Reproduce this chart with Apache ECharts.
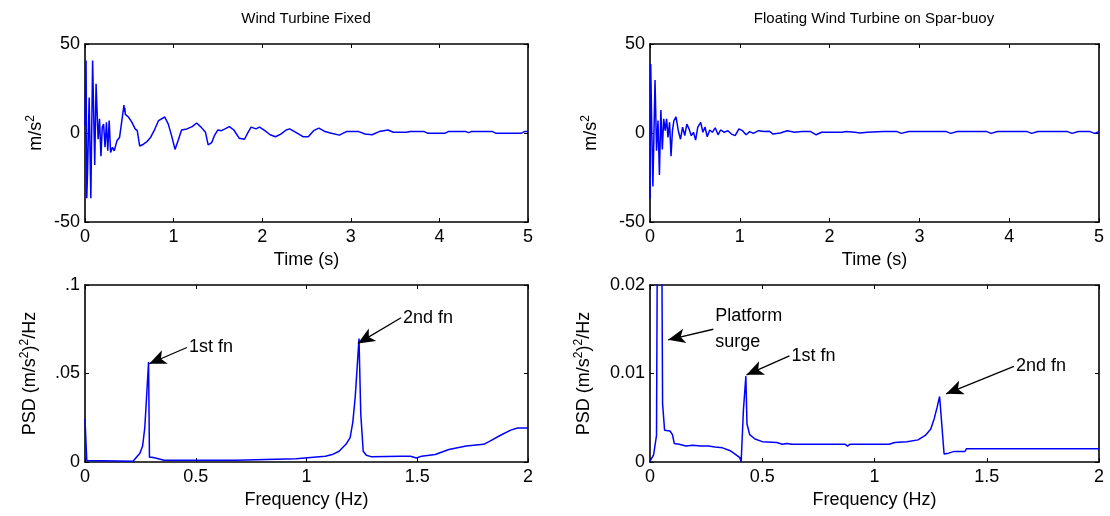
<!DOCTYPE html>
<html>
<head>
<meta charset="utf-8">
<script src="https://cdn.jsdelivr.net/npm/echarts@6/dist/echarts.min.js"></script>
<style>
  html, body { margin: 0; background: #fff; }
  #chart { width: 1110px; height: 516px; }
</style>
</head>
<body>
<div id="chart"></div>
<script>
// time histories, [t (s), acceleration (m/s^2)]
var fixedAccel = [
  [0, 4], [0.012, 40.7], [0.02, -36.7], [0.03, -20], [0.047, 20], [0.066, -36.7], [0.086, 40.7],
  [0.11, -18], [0.125, 27.6], [0.148, -3.5], [0.164, 8], [0.18, -13], [0.195, 3.3], [0.21, 5],
  [0.226, -8], [0.242, 6], [0.257, -10], [0.273, 7], [0.289, -11], [0.31, -8], [0.33, -10],
  [0.36, -4.4], [0.39, -2.5], [0.44, 15.7], [0.445, 12], [0.45, 14], [0.455, 10.5], [0.49, 9],
  [0.53, 6], [0.566, 2.3], [0.59, 1.3], [0.617, -7.3], [0.66, -6.3], [0.70, -4.8], [0.74, -2.5],
  [0.78, 1.3], [0.83, 7], [0.9, 9], [0.94, 5], [0.977, -1.5], [1.016, -9.2], [1.05, -4.4],
  [1.09, 1.7], [1.15, 2.3], [1.21, 3.6], [1.26, 5.6], [1.31, 3.3], [1.36, 0.4], [1.39, -6.7],
  [1.43, -5.4], [1.46, -1.5], [1.5, 1.7], [1.54, 1.3], [1.58, 2.3], [1.63, 3.6], [1.68, 1.7],
  [1.74, -2.9], [1.80, -3.5], [1.84, 0.4], [1.875, 3.3], [1.93, 2.3], [1.97, 3.3], [2.03, 1.3],
  [2.09, -1], [2.15, -2.1], [2.21, -0.6], [2.27, 1.7], [2.31, 2.3], [2.38, 0.4], [2.46, -2.1],
  [2.52, -2.1], [2.58, 1.3], [2.64, 2.7], [2.70, 1], [2.77, 0], [2.87, -1.2], [2.95, 0.8],
  [3.09, 0.8], [3.16, -0.6], [3.24, -1], [3.32, 0.8], [3.42, 1.7], [3.48, 0.4], [3.63, 0.4],
  [3.67, 0.8], [3.83, 0.8], [3.87, -0.2], [4.06, -0.2], [4.1, 0.8], [4.3, 0.8], [4.33, 0.2],
  [4.36, 0.8], [4.6, 0.8], [4.64, -0.2], [4.92, -0.2], [4.96, 0.8], [5, 0.8]
];
var floatAccel = [
  [0, -37], [0.004, -37], [0.008, 38.8], [0.02, 1.3], [0.032, -30], [0.056, 29.8], [0.073, -10],
  [0.089, 7], [0.105, -23.6], [0.121, 12.9], [0.137, -9.2], [0.153, 8], [0.169, 1.3], [0.185, 8],
  [0.2, -2.5], [0.218, 6], [0.234, -13], [0.25, 1.3], [0.266, 7], [0.29, 9], [0.315, 1.3],
  [0.34, -3.5], [0.363, 3.3], [0.387, -1.5], [0.41, 5], [0.435, 2.3], [0.46, -1.5], [0.484, 0.4],
  [0.508, -4], [0.532, 3.3], [0.565, 6], [0.589, 0.4], [0.613, 3.3], [0.637, -2.1], [0.665, 1.7],
  [0.694, 0.4], [0.726, 2.9], [0.758, -1], [0.786, 1.7], [0.827, 0.4], [0.867, 1.3], [0.907, -0.6],
  [0.948, -1.5], [0.99, 2.3], [1.03, 1.3], [1.07, -1], [1.11, 0.8], [1.15, -0.2], [1.21, 1.3],
  [1.27, 0.8], [1.33, 1], [1.37, -0.6], [1.45, 0], [1.53, 1.3], [1.61, 0.4], [1.69, 0.8],
  [1.79, 0.8], [1.85, -1], [1.91, 0.4], [2.14, 0.4], [2.18, 0.8], [2.28, 0.4], [2.34, 0],
  [2.42, 0.4], [2.6, 0.8], [2.75, 0.8], [2.8, -0.2], [2.88, 0.8], [3.3, 0.8], [3.35, -0.2],
  [3.42, 0.8], [3.75, 0.8], [3.8, -0.2], [3.87, 0.8], [4.2, 0.8], [4.25, -0.2], [4.32, 0.8],
  [4.65, 0.8], [4.7, -0.2], [4.77, 0.8], [4.9, 0.8], [4.95, -0.2], [5, 0.8]
];

// spectra, [f (Hz), PSD]
var fixedPsd = [
  [0, 0.0243], [0.008, 0.0008], [0.012, 0.0004], [0.217, 0.0004], [0.236, 0.0033], [0.248, 0.005],
  [0.26, 0.009], [0.27, 0.0195], [0.279, 0.039], [0.287, 0.0565], [0.291, 0.0027], [0.302, 0.0027],
  [0.318, 0.0023], [0.357, 0.001], [0.68, 0.001], [0.688, 0.0017], [0.953, 0.0019], [0.96, 0.0029],
  [1.085, 0.0033], [1.116, 0.0042], [1.147, 0.0061], [1.178, 0.01], [1.197, 0.0138], [1.209, 0.0224],
  [1.22, 0.0368], [1.23, 0.056], [1.237, 0.0697], [1.245, 0.0272], [1.256, 0.0061], [1.27, 0.0038],
  [1.295, 0.0029], [1.426, 0.0033], [1.47, 0.0033], [1.496, 0.0023], [1.52, 0.0033], [1.581, 0.0042],
  [1.643, 0.0071], [1.721, 0.009], [1.8, 0.01], [1.83, 0.0119], [1.876, 0.0151], [1.922, 0.018],
  [1.953, 0.0192], [2, 0.0192]
];
var floatPsd = [
  [0, 0.0001], [0.016, 0.0008], [0.029, 0.003], [0.042, 0.08], [0.056, 0.0066], [0.065, 0.0036],
  [0.089, 0.0035], [0.1, 0.0031], [0.108, 0.0021], [0.13, 0.002], [0.16, 0.0018], [0.19, 0.0019],
  [0.226, 0.0018], [0.26, 0.0018], [0.29, 0.0017], [0.323, 0.0016], [0.355, 0.0013], [0.379, 0.0009],
  [0.4, 0.0005], [0.406, 0], [0.416, 0.0058], [0.427, 0.0097], [0.432, 0.0043], [0.444, 0.0031],
  [0.468, 0.0026], [0.5, 0.0023], [0.565, 0.0022], [0.589, 0.002], [0.61, 0.0021], [0.63, 0.002],
  [0.87, 0.002], [0.88, 0.0018], [0.89, 0.002], [1.065, 0.002], [1.09, 0.0022], [1.145, 0.0023],
  [1.194, 0.0025], [1.226, 0.003], [1.25, 0.0037], [1.266, 0.0049], [1.279, 0.0062], [1.29, 0.0074],
  [1.31, 0.0009], [1.33, 0.001], [1.355, 0.0012], [1.403, 0.0012], [1.41, 0.0015], [2, 0.0015]
];

// arrow annotations: text sits at `from`, arrow head at `to`
var fixedNotes = [
  { text: '1st fn', from: [0.46, 0.0647], to: [0.29, 0.0555] },
  { text: '2nd fn', from: [1.427, 0.0815], to: [1.232, 0.067] }
];
var floatNotes = [
  { text: 'Platform\nsurge', from: [0.282, 0.015], to: [0.081, 0.0138] },
  { text: '1st fn', from: [0.621, 0.012], to: [0.43, 0.00985] },
  { text: '2nd fn', from: [1.621, 0.0108], to: [1.319, 0.0077] }
];

var titles = ['Wind Turbine Fixed', 'Floating Wind Turbine on Spar-buoy'];

var FONT = 'Liberation Sans, Arial, sans-serif';
var FS = 18;
var grids = [
  { left: 85, top: 44, width: 443, height: 178 },
  { left: 650, top: 44, width: 449, height: 178 },
  { left: 85, top: 285, width: 443, height: 177 },
  { left: 650, top: 285, width: 449, height: 177 }
];

var xDefs = [
  { min: 0, max: 5, interval: 1, name: 'Time (s)' },
  { min: 0, max: 5, interval: 1, name: 'Time (s)' },
  { min: 0, max: 2, interval: 0.5, name: 'Frequency (Hz)' },
  { min: 0, max: 2, interval: 0.5, name: 'Frequency (Hz)' }
];
var yDefs = [
  { min: -50, max: 50, interval: 50, name: 'm/s{sup|2}', gap: 38, fmt: function (v) { return String(v); } },
  { min: -50, max: 50, interval: 50, name: 'm/s{sup|2}', gap: 48, fmt: function (v) { return String(v); } },
  { min: 0, max: 0.1, interval: 0.05, name: 'PSD (m/s{sup|2}){sup|2}/Hz', gap: 44, fmt: function (v) {
      var k = Math.round(v * 100);
      return k === 0 ? '0' : (k === 10 ? '.1' : '.05');
    } },
  { min: 0, max: 0.02, interval: 0.01, name: 'PSD (m/s{sup|2}){sup|2}/Hz', gap: 55, fmt: function (v) {
      var k = Math.round(v * 100);
      return k === 0 ? '0' : '0.0' + k;
    } }
];

var lineAxis = { show: true, onZero: false, lineStyle: { color: '#000', width: 1.6 } };
var tickIn = { show: true, inside: true, length: 4, lineStyle: { color: '#000', width: 1 } };
var labelStyle = { color: '#000', fontSize: FS, fontFamily: FONT };
var nameStyle = {
  color: '#000', fontSize: FS, fontFamily: FONT, lineHeight: 22,
  rich: { sup: { fontSize: 12, fontFamily: FONT, color: '#000', verticalAlign: 'top', lineHeight: 12 } }
};

var xAxes = [], yAxes = [];
grids.forEach(function (g, i) {
  var xd = xDefs[i], yd = yDefs[i];
  xAxes.push({
    type: 'value', gridIndex: i, position: 'bottom', min: xd.min, max: xd.max, interval: xd.interval,
    name: xd.name, nameLocation: 'middle', nameGap: 29,
    nameTextStyle: { color: '#000', fontSize: FS, fontFamily: FONT },
    axisLine: lineAxis, axisTick: tickIn, splitLine: { show: false },
    axisLabel: Object.assign({ margin: 6 }, labelStyle)
  });
  xAxes.push({
    type: 'value', gridIndex: i, position: 'top', min: xd.min, max: xd.max, interval: xd.interval,
    axisLine: lineAxis, axisTick: tickIn, splitLine: { show: false }, axisLabel: { show: false }
  });
  yAxes.push({
    type: 'value', gridIndex: i, position: 'left', min: yd.min, max: yd.max, interval: yd.interval,
    name: yd.name, nameLocation: 'middle', nameRotate: 90, nameGap: yd.gap,
    nameTextStyle: nameStyle,
    axisLine: lineAxis, axisTick: tickIn, splitLine: { show: false },
    axisLabel: Object.assign({ margin: 5, formatter: yd.fmt }, labelStyle)
  });
  yAxes.push({
    type: 'value', gridIndex: i, position: 'right', min: yd.min, max: yd.max, interval: yd.interval,
    axisLine: lineAxis, axisTick: tickIn, splitLine: { show: false }, axisLabel: { show: false }
  });
});

function notes(list) {
  return {
    markLine: {
      silent: true, symbol: ['none', 'arrow'], symbolSize: [11, 17],
      lineStyle: { color: '#000', width: 1.3, type: 'solid' },
      label: { show: false }, emphasis: { disabled: true },
      data: list.map(function (n) { return [{ coord: n.from }, { coord: n.to }]; })
    },
    markPoint: {
      silent: true, symbol: 'circle', symbolSize: 0,
      data: list.map(function (n) {
        return {
          coord: n.from,
          label: { show: true, position: 'right', distance: 2, formatter: n.text,
                   color: '#000', fontSize: FS, fontFamily: FONT, lineHeight: 26, align: 'left' }
        };
      })
    }
  };
}

var curves = [fixedAccel, floatAccel, fixedPsd, floatPsd];
var series = curves.map(function (d, i) {
  var s = {
    type: 'line', data: d, xAxisIndex: 2 * i, yAxisIndex: 2 * i,
    showSymbol: false, symbol: 'none', clip: true, silent: true,
    lineStyle: { color: '#0000ff', width: 1.5 }
  };
  if (i === 2) Object.assign(s, notes(fixedNotes));
  if (i === 3) Object.assign(s, notes(floatNotes));
  return s;
});

var chart = echarts.init(document.getElementById('chart'));
chart.setOption({
  animation: false,
  backgroundColor: '#fff',
  title: [
    { text: titles[0], left: 306, top: 11, textAlign: 'center', padding: 0,
      textStyle: { color: '#000', fontSize: 15, fontWeight: 'normal', fontFamily: FONT } },
    { text: titles[1], left: 874, top: 11, textAlign: 'center', padding: 0,
      textStyle: { color: '#000', fontSize: 15, fontWeight: 'normal', fontFamily: FONT } }
  ],
  grid: grids,
  xAxis: xAxes,
  yAxis: yAxes,
  series: series
});
</script>
</body>
</html>
